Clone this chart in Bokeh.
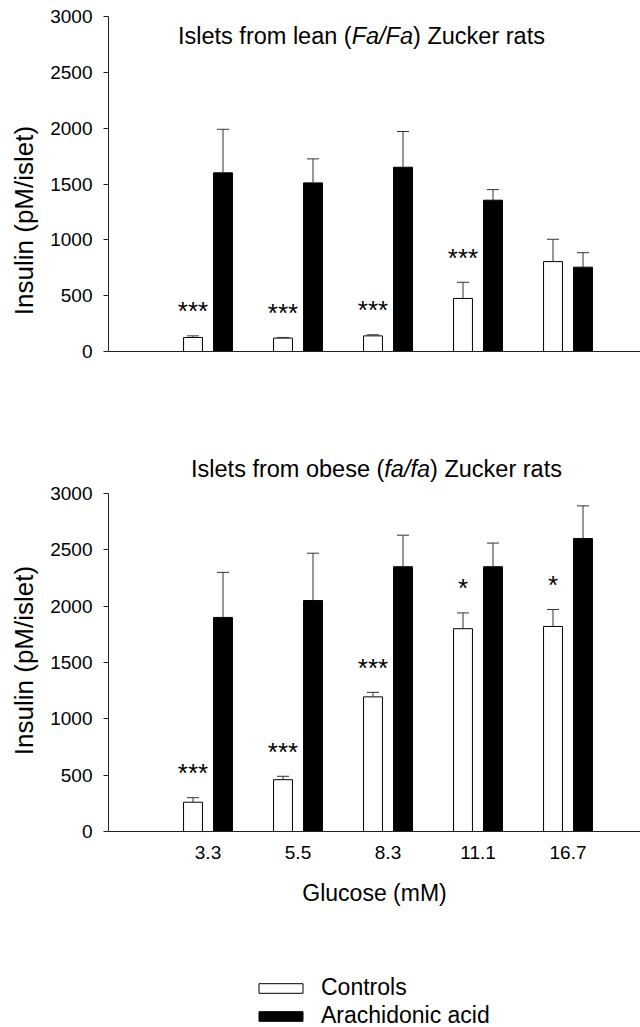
import numpy as np
from bokeh.plotting import figure
from bokeh.models import (ColumnDataSource, Range1d, FixedTicker, Whisker, TeeHead,
                          Label, Legend, LegendItem)
from bokeh.layouts import column
from bokeh.embed import file_html
from bokeh.resources import INLINE
from bokeh.core.properties import value

# ---------------- data ----------------
glucose = ["3.3", "5.5", "8.3", "11.1", "16.7"]

lean_ctrl = [125, 120, 140, 475, 805]
lean_ctrl_err = [15, 6, 10, 145, 200]
lean_aa = [1600, 1510, 1650, 1355, 755]
lean_aa_err = [390, 215, 320, 95, 130]
lean_sig = ["***", "***", "***", "***", ""]

obese_ctrl = [260, 460, 1195, 1800, 1820]
obese_ctrl_err = [40, 30, 40, 140, 150]
obese_aa = [1900, 2050, 2350, 2350, 2600]
obese_aa_err = [400, 420, 280, 210, 290]
obese_sig = ["***", "***", "***", "*", "*"]

y_ticks = [0, 500, 1000, 1500, 2000, 2500, 3000]

FONT = "Liberation Sans"

# Arial / Liberation Sans advance widths (1/1000 em)
W = {' ': 278, '(': 333, ')': 333, '/': 278, 'I': 278, 'F': 611, 'Z': 611,
     'a': 556, 'b': 556, 'c': 500, 'e': 556, 'f': 278, 'k': 500, 'l': 222,
     'm': 833, 'n': 556, 'o': 556, 'r': 333, 's': 500, 't': 278, 'u': 556}


def tw(s, fs):
    return sum(W.get(ch, 556) for ch in s) * fs / 1000.0


def add_title(p, parts, x, y, fs):
    widths = [tw(t, fs) for t, _ in parts]
    start = -sum(widths) / 2.0
    for (t, style), w in zip(parts, widths):
        p.add_layout(Label(x=x, y=y, x_offset=start, text=t, text_font=FONT,
                           text_font_size=f"{fs}px", text_font_style=style,
                           text_align="left", text_baseline="middle",
                           text_color="black"))
        start += w


# layout geometry (frames fill whole figures; axes drawn at fixed locations)
PX_X = 90.0                       # pixels per group
axis_x = -0.1056                  # data x of the y axis
x_lo = axis_x - 108 / PX_X
x_hi = axis_x + (640 - 108) / PX_X
pos = np.arange(1, 6)
off = 0.1667
bw = 0.21


def make_panel(ctrl, ctrl_err, aa, aa_err, sig, height, y0, y1, show_x_labels):
    p = figure(width=640, height=height, output_backend="svg", toolbar_location=None,
               x_range=Range1d(x_lo, x_hi), y_range=Range1d(y0, y1),
               min_border=0)
    p.outline_line_color = None
    p.xgrid.visible = False
    p.ygrid.visible = False
    p.background_fill_color = "white"
    p.border_fill_color = "white"

    xc = pos - off
    xa = pos + off
    src_c = ColumnDataSource(dict(x=xc, top=ctrl, upper=np.array(ctrl) + np.array(ctrl_err),
                                  lower=ctrl))
    src_a = ColumnDataSource(dict(x=xa, top=aa, upper=np.array(aa) + np.array(aa_err),
                                  lower=aa))
    for src in (src_c, src_a):
        wk = Whisker(source=src, base="x", upper="upper", lower="lower",
                     lower_head=None,
                     upper_head=TeeHead(size=12, line_color="#333333", line_width=1),
                     line_color="#333333", line_width=1, level="glyph")
        p.add_layout(wk)
    rc = p.vbar(x="x", top="top", width=bw, bottom=0, source=src_c,
                fill_color="white", line_color="black", line_width=1)
    ra = p.vbar(x="x", top="top", width=bw, bottom=0, source=src_a,
                fill_color="black", line_color="black", line_width=1)

    # significance stars
    pad = 220
    star_src = ColumnDataSource(dict(x=xc, y=np.array(ctrl) + np.array(ctrl_err) + pad,
                                     t=sig))
    p.text(x="x", y="y", text="t", source=star_src, text_font=value(FONT),
           text_font_size="26px", text_align="center", text_baseline="alphabetic",
           text_color="black")

    # axes
    ya = p.yaxis[0]
    ya.fixed_location = axis_x
    ya.bounds = (0, 3000)
    ya.ticker = FixedTicker(ticks=y_ticks)
    ya.minor_tick_line_color = None
    ya.major_tick_in = 0
    ya.major_tick_out = 5
    ya.major_label_standoff = 11
    ya.major_label_text_font = FONT
    ya.major_label_text_font_size = "19px"
    ya.major_label_text_color = "black"
    ya.axis_line_color = "#222222"
    ya.major_tick_line_color = "#222222"

    xa_ = p.xaxis[0]
    xa_.fixed_location = 0
    xa_.bounds = (axis_x, x_hi)
    xa_.axis_line_color = "#222222"
    xa_.major_tick_line_color = None
    xa_.minor_tick_line_color = None
    xa_.major_tick_out = 0
    xa_.major_tick_in = 0
    if show_x_labels:
        xa_.ticker = FixedTicker(ticks=list(pos))
        xa_.major_label_overrides = {int(k): g for k, g in zip(pos, glucose)}
        xa_.major_label_standoff = 14
        xa_.major_label_text_font = FONT
        xa_.major_label_text_font_size = "19px"
        xa_.major_label_text_color = "black"
        xa_.axis_label = "Glucose (mM)"
        xa_.axis_label_text_font = FONT
        xa_.axis_label_text_font_size = "23px"
        xa_.axis_label_text_font_style = "normal"
        xa_.axis_label_standoff = 18
        xa_.axis_label_text_color = "black"
    else:
        xa_.ticker = FixedTicker(ticks=[])
        xa_.major_label_text_font_size = "0px"
    return p, rc, ra


# top panel: page y 0..370, 3000 at y=16, 0 at y=351
k1 = 3000 / 335.0
p1, _, _ = make_panel(lean_ctrl, lean_ctrl_err, lean_aa, lean_aa_err, lean_sig,
                      370, -(370 - 351) * k1, 3000 + 16 * k1, False)
# bottom panel: page y 370..1027, 3000 at y=493, 0 at y=831
k2 = 3000 / 338.0
p2, rc2, ra2 = make_panel(obese_ctrl, obese_ctrl_err, obese_aa, obese_aa_err, obese_sig,
                          657, -(1027 - 831) * k2, 3000 + (493 - 370) * k2, True)

# titles
add_title(p1, [("Islets from lean (", "normal"), ("Fa/Fa", "italic"),
               (") Zucker rats", "normal")], 2.705, 3000 - 19 * k1, 23.5)
add_title(p2, [("Islets from obese (", "normal"), ("fa/fa", "italic"),
               (") Zucker rats", "normal")], 2.872, 3000 + 25 * k2, 23.5)

# y axis labels
ylab_x = axis_x - (108 - 23) / PX_X
for p, yc in ((p1, (351 - 220) * k1), (p2, (831 - 660) * k2)):
    p.add_layout(Label(x=ylab_x, y=yc, text="Insulin (pM/islet)", angle=np.pi / 2,
                       text_font=FONT, text_font_size="26px", text_align="center",
                       text_baseline="middle", text_color="black"))

legend = Legend(items=[LegendItem(label="Controls", renderers=[rc2]),
                       LegendItem(label="Arachidonic acid", renderers=[ra2])],
                location=(253, -2), orientation="vertical",
                glyph_width=55, glyph_height=12, label_standoff=13, spacing=1,
                padding=0, margin=0, border_line_color=None,
                background_fill_alpha=0,
                label_text_font=FONT, label_text_font_size="23px",
                label_text_color="black")
p2.add_layout(legend)

layout = column(p1, p2)
open("out.html", "w").write(file_html(layout, INLINE))
